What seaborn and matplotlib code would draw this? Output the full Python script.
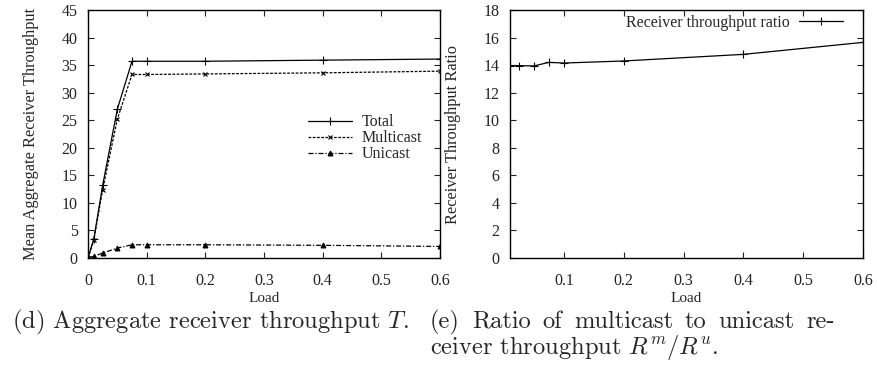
import matplotlib
matplotlib.use("Agg")
import matplotlib.pyplot as plt
import seaborn as sns
import pandas as pd

# Offered load values
load = [0.0, 0.01, 0.025, 0.05, 0.075, 0.1, 0.2, 0.4, 0.6]
# Mean aggregate receiver throughput per traffic class
total = [0.0, 3.5, 13.2, 27.0, 35.7, 35.7, 35.7, 35.9, 36.1]
multicast = [0.0, 3.3, 12.4, 25.2, 33.3, 33.3, 33.4, 33.6, 33.9]
unicast = [0.1, 0.3, 0.9, 1.8, 2.4, 2.4, 2.4, 2.3, 2.1]

# Ratio of multicast to unicast receiver throughput
ratio_load = [0.01, 0.025, 0.05, 0.075, 0.1, 0.2, 0.4, 0.6]
ratio = [13.96, 13.96, 13.94, 14.2, 14.15, 14.3, 14.78, 15.65]

left_yticks = [0, 5, 10, 15, 20, 25, 30, 35, 40, 45]
right_yticks = [0, 2, 4, 6, 8, 10, 12, 14, 16, 18]
left_xticks = [0, 0.1, 0.2, 0.3, 0.4, 0.5, 0.6]
left_xticklabels = ["0", "0.1", "0.2", "0.3", "0.4", "0.5", "0.6"]
right_xticks = [0.1, 0.2, 0.3, 0.4, 0.5, 0.6]
right_xticklabels = ["0.1", "0.2", "0.3", "0.4", "0.5", "0.6"]

sns.set_theme(style="ticks")
plt.rcParams["font.family"] = ["Liberation Serif", "DejaVu Serif"]
plt.rcParams["mathtext.fontset"] = "cm"

W, H = 877, 369
fig = plt.figure(figsize=(W / 100, H / 100), dpi=100)
ax1 = fig.add_axes([88 / W, 1 - 258 / H, 352 / W, 248 / H])
ax2 = fig.add_axes([510 / W, 1 - 258 / H, 353 / W, 248 / H])

df = pd.DataFrame({"Load": load, "Total": total,
                   "Multicast": multicast, "Unicast": unicast})
rf = pd.DataFrame({"Load": ratio_load, "Ratio": ratio})

lw = 0.9
common = dict(color="black", lw=lw, markeredgecolor="black",
              markerfacecolor="black", markeredgewidth=0.8)
sns.lineplot(data=df, x="Load", y="Total", ax=ax1, marker="+", ms=5.5,
             linestyle="-", label="Total", **common)
sns.lineplot(data=df, x="Load", y="Multicast", ax=ax1, marker="x", ms=3.5,
             dashes=(2.2, 1.2), label="Multicast", **common)
sns.lineplot(data=df, x="Load", y="Unicast", ax=ax1, marker="^", ms=3.5,
             dashes=(4, 1.5, 1, 1.5), label="Unicast", **common)

sns.lineplot(data=rf, x="Load", y="Ratio", ax=ax2, marker="+", ms=5.5,
             linestyle="-", label="Receiver throughput ratio", **common)

tick_fs = 11.5
for ax in (ax1, ax2):
    for s in ax.spines.values():
        s.set_visible(True)
        s.set_linewidth(1.0)
        s.set_color("black")
    ax.tick_params(direction="in", top=True, right=True, length=4,
                   width=0.8, labelsize=tick_fs, colors="#222222")
    ax.tick_params(axis="x", pad=11)
    ax.tick_params(axis="y", pad=7.5)
    ax.set_xlabel("Load", fontsize=11)

ax1.set_xlim(0, 0.6)
ax1.set_ylim(0, 45)
ax1.set_xticks(left_xticks)
ax1.set_xticklabels(left_xticklabels)
ax1.set_yticks(left_yticks)
ax1.set_ylabel("Mean Aggregate Receiver Throughput", fontsize=11.8)
ax1.yaxis.set_label_coords((31 - 88) / 352, 0.5)

ax2.set_xlim(0.01, 0.6)
ax2.set_ylim(0, 18)
ax2.set_xticks(right_xticks)
ax2.set_xticklabels(right_xticklabels)
ax2.set_yticks(right_yticks)
ax2.set_ylabel("Receiver Throughput Ratio", fontsize=11.8)
ax2.yaxis.set_label_coords((453 - 510) / 353, 0.5)
for ax in (ax1, ax2):
    ax.yaxis.label.set_va("center")
    ax.xaxis.set_label_coords(0.5, (258 - 298) / 248)
    ax.xaxis.label.set_va("center")

leg_kw = dict(frameon=False, fontsize=11.5, handlelength=2.75,
              handletextpad=0.6, labelspacing=0.0, borderpad=0,
              borderaxespad=0)
ax1.legend(loc="upper left", bbox_to_anchor=(0.625, 0.58), **leg_kw)
ax2.legend(loc="upper right", bbox_to_anchor=(0.943, 0.98),
           markerfirst=False, **leg_kw)

# Sub-figure captions
cap = dict(fontsize=17.6, family="cmr10", va="baseline", ha="left")
fig.text(12 / W, 1 - 328 / H, "(d) Aggregate receiver throughput $T$.", **cap)

# Justified first line of caption (e)
words = ["(e)", "Ratio", "of", "multicast", "to", "unicast", "re-"]
x_start, x_end = 430, 835
renderer = fig.canvas.get_renderer()
items = []
for w in words:
    t = fig.text(0, 1 - 328 / H, w, **cap)
    items.append((t, t.get_window_extent(renderer).width))
gap = (x_end - x_start - sum(wd for _, wd in items)) / (len(items) - 1)
x = x_start
for t, wd in items:
    t.set_x(x / W)
    x += wd + gap
fig.text(x_start / W, 1 - 354 / H, "ceiver throughput $R^m/R^u$.", **cap)

fig.savefig("out.png", dpi=100)
